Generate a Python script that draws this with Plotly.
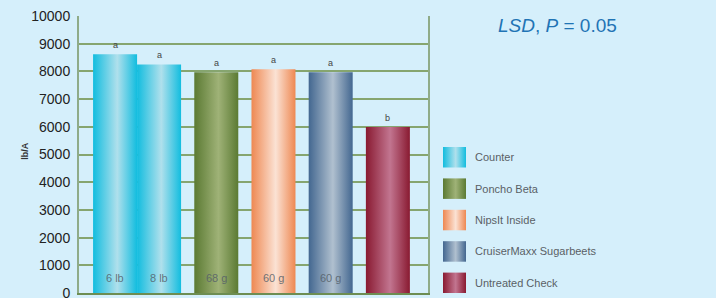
import plotly.graph_objects as go

# ---- data ----
products = ["Counter", "Counter", "Poncho Beta", "NipsIt Inside", "CruiserMaxx Sugarbeets", "Untreated Check"]
rates = ["6 lb", "8 lb", "68 g", "60 g", "60 g", ""]
yields = [8620, 8250, 7970, 8080, 7970, 5990]
letters = ["a", "a", "a", "a", "a", "b"]
legend_items = ["Counter", "Poncho Beta", "NipsIt Inside", "CruiserMaxx Sugarbeets", "Untreated Check"]
y_ticks = [0, 1000, 2000, 3000, 4000, 5000, 6000, 7000, 8000, 9000, 10000]

# ---- styles ----
grad = {
    "Counter": ("#12bddf", "#b0e0ec"),
    "Poncho Beta": ("#5b7a33", "#9fb277"),
    "NipsIt Inside": ("#ee8852", "#fbe2d4"),
    "CruiserMaxx Sugarbeets": ("#436790", "#b0c0cf"),
    "Untreated Check": ("#891a31", "#c27590"),
}
BG = "#d5effb"
GRID = "#86a56f"
FONT = "Liberation Sans, Arial, Helvetica, sans-serif"

W, H = 716, 298
ML, MR, MT, MB = 79, 10, 16, 5
plot_w = W - ML - MR
main_px = 349
bar_px = 44

fig = go.Figure()

# bar positions (in bar-width units): adjacent within a product, gap between products
pad, gap = 0.32, 0.3
lefts = []
cur = pad
for i, p in enumerate(products):
    if i > 0:
        cur += 1 if p == products[i - 1] else 1 + gap
    lefts.append(cur)

for i, (p, v) in enumerate(zip(products, yields)):
    x0, x1 = lefts[i], lefts[i] + 1
    dark, light = grad[p]
    fig.add_trace(go.Scatter(
        x=[x0, x1, x1, x0, x0], y=[0, 0, v, v, 0], mode="lines", fill="toself",
        line=dict(width=0, color=dark),
        fillgradient=dict(type="horizontal",
                          colorscale=[[0, dark], [0.55, light], [1, dark]]),
        showlegend=False, hoverinfo="skip", xaxis="x", yaxis="y"))
    fig.add_annotation(x=(x0 + x1) / 2, y=v, text=letters[i], showarrow=False,
                       yanchor="bottom", yshift=2, font=dict(size=9, color="#444", family=FONT),
                       xref="x", yref="y")
    if rates[i]:
        fig.add_annotation(x=(x0 + x1) / 2, y=0, text=rates[i], showarrow=False,
                           yanchor="middle", yshift=15,
                           font=dict(size=11, color="rgba(85,95,105,0.85)", family=FONT),
                           xref="x", yref="y")

# custom legend in pixel-unit axes
for k, name in enumerate(legend_items):
    dark, light = grad[name]
    top = 147 + k * 31.4
    bot = top + 20.5
    sx0, sx1 = 443, 466
    fig.add_trace(go.Scatter(
        x=[sx0, sx1, sx1, sx0, sx0], y=[bot, bot, top, top, bot], mode="lines", fill="toself",
        line=dict(width=0, color=dark),
        fillgradient=dict(type="horizontal",
                          colorscale=[[0, dark], [0.55, light], [1, dark]]),
        showlegend=False, hoverinfo="skip", xaxis="x2", yaxis="y2"))
    fig.add_annotation(x=473, y=(top + bot) / 2, text=name, showarrow=False,
                       xanchor="left", yanchor="middle",
                       font=dict(size=11, color="#5a5f66", family=FONT),
                       xref="x2", yref="y2")

d_main = main_px / plot_w
d_leg0 = (430 - ML) / plot_w

fig.update_layout(
    width=W, height=H,
    margin=dict(l=ML, r=MR, t=MT, b=MB, autoexpand=False),
    paper_bgcolor=BG, plot_bgcolor=BG,
    font=dict(family=FONT),
    xaxis=dict(domain=[0, d_main], range=[0, main_px / bar_px], showgrid=False,
               showticklabels=False, ticks="", zeroline=False, automargin=False,
               showline=True, linecolor="#6d8d52", linewidth=2, fixedrange=True),
    yaxis=dict(range=[0, 10000], tickvals=y_ticks, ticktext=[str(t) for t in y_ticks],
               showgrid=True, gridcolor=GRID, ticklabeloverflow="allow", automargin=False,
               gridwidth=2, zeroline=False, showline=True, mirror=True,
               linecolor="#8fab88", linewidth=2, ticks="",
               tickfont=dict(size=14, color="#222", family=FONT), ticklabelstandoff=4),
    xaxis2=dict(domain=[d_leg0, 1], range=[430, W - MR], visible=False, anchor="y2",
                automargin=False),
    yaxis2=dict(domain=[0, 1], range=[H - MB, MT], visible=False, anchor="x2",
                automargin=False),
    showlegend=False,
)

fig.add_annotation(xref="paper", yref="paper", x=(18 - ML) / plot_w, y=0.51,
                   text="<b>lb/A</b>", textangle=-90, showarrow=False,
                   font=dict(size=9, color="#333", family=FONT))
fig.add_annotation(xref="paper", yref="paper", x=(557 - ML) / plot_w,
                   y=(H - MB - 25) / (H - MT - MB), xanchor="center", yanchor="middle",
                   text="<i>LSD</i>, <i>P</i> = 0.05", showarrow=False,
                   font=dict(size=19, color="#1f74b5", family=FONT))

fig.write_html("out.html", config={"displayModeBar": False},
               post_script="document.body.style.margin='0px';")
